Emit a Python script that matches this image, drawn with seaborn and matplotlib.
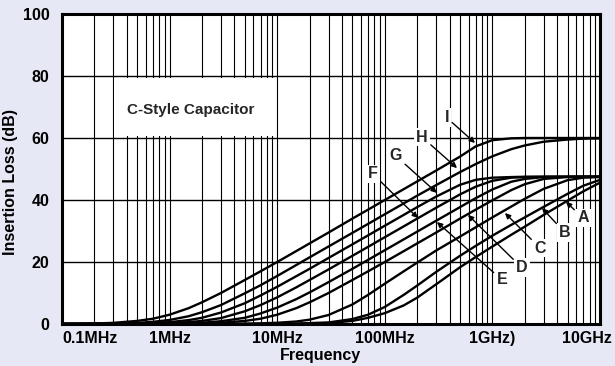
import pandas as pd
import matplotlib
matplotlib.use("Agg")
import matplotlib.pyplot as plt
import matplotlib.ticker as mticker
import matplotlib.transforms as mtransforms
from matplotlib.patches import Rectangle
import seaborn as sns

# frequency in MHz, insertion loss in dB
freq_mhz = [0.1, 0.15, 0.2, 0.3, 0.5, 0.7, 1, 1.5, 2, 3, 5, 7, 10, 15, 20, 30,
            50, 70, 100, 150, 200, 300, 500, 700, 1000, 1500, 2000, 3000,
            5000, 7000, 10000]

loss_a = [0, 0, 0, 0, 0, 0, 0, 0, 0, 0, 0, 0, 0, 0, 0.1, 0.3,
          1.0, 2.0, 3.5, 6.0, 8.5, 12.8, 18.3, 21.6, 25.0, 28.8, 31.4, 35.2,
          39.8, 42.8, 45.6]
loss_b = [0, 0, 0, 0, 0, 0, 0, 0, 0, 0, 0, 0, 0.05, 0.15, 0.3, 0.5,
          1.6, 3.0, 5.5, 9.4, 12.4, 16.8, 22.0, 25.2, 28.5, 32.0, 34.4, 37.8,
          42.0, 44.6, 46.5]
loss_c = [0, 0, 0, 0, 0, 0, 0, 0, 0, 0, 0.1, 0.2, 0.4, 0.8, 1.4, 2.9,
          6.3, 9.4, 13.0, 17.0, 19.8, 23.7, 28.2, 31.2, 34.4, 37.9, 40.4, 43.6,
          46.4, 47.2, 47.4]
loss_d = [0, 0, 0, 0, 0, 0, 0.05, 0.1, 0.2, 0.4, 1.0, 1.7, 3.0, 5.1, 7.0, 10.0,
          14.2, 17.0, 20.0, 23.5, 26.0, 29.5, 34.0, 36.9, 39.9, 43.2, 45.1, 46.8,
          47.4, 47.5, 47.5]
loss_e = [0, 0, 0, 0, 0, 0.05, 0.1, 0.2, 0.4, 0.9, 2.0, 3.4, 5.3, 8.0, 10.2, 13.5,
          17.8, 20.7, 23.8, 27.3, 29.8, 33.3, 37.7, 40.6, 43.4, 45.9, 46.8, 47.4,
          47.5, 47.5, 47.5]
loss_f = [0, 0, 0, 0, 0.05, 0.1, 0.3, 0.6, 1.0, 1.9, 4.1, 6.1, 8.6, 11.8, 14.2, 17.6,
          22.0, 24.9, 28.0, 31.5, 34.0, 37.5, 41.8, 44.3, 46.2, 47.2, 47.4, 47.5,
          47.5, 47.5, 47.5]
loss_g = [0, 0, 0, 0.05, 0.15, 0.3, 0.6, 1.25, 2.0, 3.7, 6.7, 9.2, 12.0, 15.4, 17.8, 21.3,
          25.7, 28.6, 31.7, 35.2, 37.7, 41.1, 44.9, 46.5, 47.2, 47.4, 47.5, 47.5,
          47.5, 47.5, 47.5]
loss_h = [0, 0.03, 0.06, 0.13, 0.36, 0.7, 1.3, 2.5, 3.8, 6.1, 9.9, 12.5, 15.5, 19.0, 21.5, 25.0,
          29.4, 32.3, 35.4, 38.9, 41.4, 44.8, 49.0, 51.6, 54.1, 56.4, 57.6, 58.8,
          59.5, 59.8, 59.9]
loss_i = [0.04, 0.1, 0.17, 0.37, 1.0, 1.7, 3.0, 5.1, 7.0, 10.0, 14.2, 17.0, 20.0, 23.5, 26.0, 29.5,
          34.0, 36.9, 40.0, 43.5, 46.0, 49.5, 54.0, 57.3, 59.3, 59.9, 60, 60,
          60, 60, 60]

curve_names = ["A", "B", "C", "D", "E", "F", "G", "H", "I"]
curve_losses = [loss_a, loss_b, loss_c, loss_d, loss_e, loss_f, loss_g, loss_h, loss_i]

tick_freqs = [0.1, 1, 10, 100, 1000, 10000]
tick_labels = ["0.1MHz", "1MHz", "10MHz", "100MHz", "1GHz)", "10GHz"]

# label text position and arrow tip (MHz, dB)
callouts = {
    "I": ((378, 66.5), (689, 58.4)),
    "H": ((222, 60.3), (469, 50.3)),
    "G": ((127, 54.2), (305, 42.3)),
    "F": ((77.6, 48.4), (203, 34.2)),
    "E": ((1228, 14.2), (305, 32.9)),
    "D": ((1883, 18.1), (593, 35.2)),
    "C": ((2768, 24.5), (1309, 35.8)),
    "B": ((4730, 29.4), (2893, 37.4)),
    "A": ((6954, 34.2), (4830, 39.4)),
}

rows = []
for name, vals in zip(curve_names, curve_losses):
    for f, v in zip(freq_mhz, vals):
        rows.append({"freq": f, "loss": v, "curve": name})
df = pd.DataFrame(rows)

bg = "#e7e8f5"
sns.set_theme(style="white")
plt.rcParams["font.family"] = ["Liberation Sans", "DejaVu Sans"]
plt.rcParams["font.weight"] = "bold"

fig = plt.figure(figsize=(6.15, 3.66), dpi=100, facecolor=bg)
ax = fig.add_axes([62 / 615, 1 - 324 / 366, 538 / 615, 310 / 366])
ax.set_facecolor("white")
ax.set_axisbelow(True)

sns.lineplot(data=df, x="freq", y="loss", hue="curve",
             palette=["black"] * 9, legend=False, lw=1.7, ax=ax, zorder=3)

ax.set_xscale("log")
ax.set_xlim(0.1, 10000)
ax.set_ylim(0, 100)
ax.set_yticks([0, 20, 40, 60, 80, 100])
ax.xaxis.set_minor_locator(mticker.LogLocator(base=10, subs=range(2, 10), numticks=20))
ax.xaxis.set_minor_formatter(mticker.NullFormatter())
ax.set_xticks(tick_freqs)
ax.set_xticklabels(tick_labels)

ax.grid(which="both", axis="x", color="black", lw=0.8)
ax.grid(which="major", axis="y", color="black", lw=1.0)
ax.tick_params(which="both", length=0, labelsize=11.5, colors="black")
ax.tick_params(axis="x", pad=5)
ax.tick_params(axis="y", pad=9)
for lab in ax.get_xticklabels() + ax.get_yticklabels():
    lab.set_fontweight("bold")

xl = ax.get_xticklabels()
xl[0].set_ha("left")
xl[-1].set_transform(xl[-1].get_transform()
                     + mtransforms.ScaledTranslation(-0.13, 0, fig.dpi_scale_trans))

for sp in ax.spines.values():
    sp.set_color("black")
    sp.set_linewidth(2.2)

ax.set_xlabel("Frequency", fontsize=11.5, fontweight="bold", color="black")
ax.set_ylabel("Insertion Loss (dB)", fontsize=11.5, fontweight="bold", color="black")
ax.xaxis.set_label_coords(0.481, -0.078)
ax.yaxis.set_label_coords(-0.082, 0.458)

ax.add_patch(Rectangle((0.305, 60.5), 9.8 - 0.305, 19.0, facecolor="white",
                       edgecolor="none", zorder=1))
ax.text(1.58, 69.0, "C-Style Capacitor", fontsize=11, fontweight="bold",
        ha="center", va="center", zorder=4)

for name, (txt, tip) in callouts.items():
    ax.annotate(name, xy=tip, xytext=txt, fontsize=11.5, fontweight="bold",
                ha="center", va="center", zorder=5,
                bbox=dict(boxstyle="square,pad=0.12", fc="white", ec="none"),
                arrowprops=dict(arrowstyle="-|>", color="black", lw=1.0,
                                mutation_scale=8, shrinkA=1, shrinkB=0))

fig.savefig("out.png", dpi=100, facecolor=bg)
